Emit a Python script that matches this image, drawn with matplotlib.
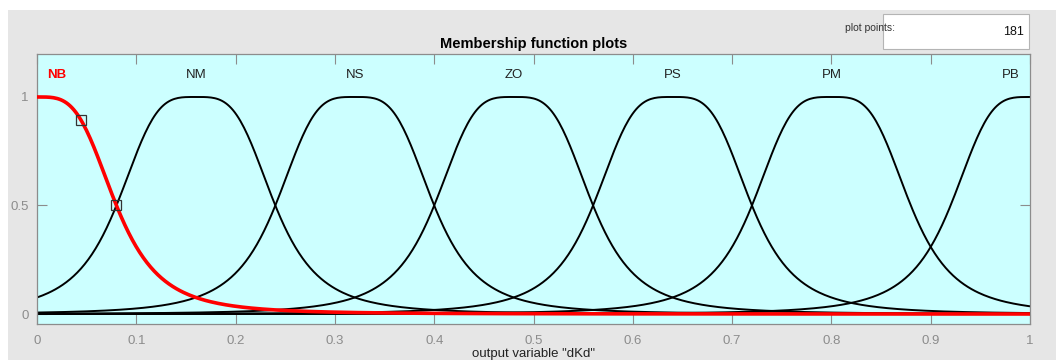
import numpy as np
import matplotlib.pyplot as plt
from matplotlib.patches import Rectangle

plt.rcParams['font.family'] = ['Liberation Sans', 'DejaVu Sans']

# generalized bell membership functions for output "dKd": [a, b, c]
mf_names = ['NB', 'NM', 'NS', 'ZO', 'PS', 'PM', 'PB']
mf_width = [0.08, 0.08, 0.08, 0.08, 0.08, 0.08, 0.08]
mf_slope = [1.8, 1.8, 1.8, 1.8, 1.8, 1.8, 1.8]
mf_center = [0.0, 0.16, 0.32, 0.48, 0.64, 0.80, 1.0]
selected = 0
n_points = 181
handle_x = [0.044, 0.08]


def gbellmf(x, a, b, c):
    return 1.0 / (1.0 + np.abs((x - c) / a) ** (2 * b))


W, H = 1056, 360
fig = plt.figure(figsize=(W / 100, H / 100), dpi=100)
fig.patch.set_facecolor('white')

# grey panel behind everything
panel = fig.add_axes([8 / W, 0, 1 - 8 / W, 1 - 10 / H])
panel.set_facecolor('#e6e6e6')
panel.set_xticks([])
panel.set_yticks([])
for s in panel.spines.values():
    s.set_visible(False)

ax_l, ax_r, ax_t, ax_b = 37, 1030, 54, 324
ax = fig.add_axes([ax_l / W, 1 - ax_b / H, (ax_r - ax_l) / W, (ax_b - ax_t) / H])
ax.set_facecolor('#ccffff')

x = np.linspace(0, 1, n_points * 3)
for i, name in enumerate(mf_names):
    if i == selected:
        continue
    y = gbellmf(x, mf_width[i], mf_slope[i], mf_center[i])
    ax.plot(x, y, color='black', lw=1.4, zorder=2)
y_sel = gbellmf(x, mf_width[selected], mf_slope[selected], mf_center[selected])
ax.plot(x, y_sel, color='red', lw=2.6, zorder=3)

hx = np.array(handle_x)
hy = gbellmf(hx, mf_width[selected], mf_slope[selected], mf_center[selected])
ax.plot(hx, hy, ls='none', marker='s', ms=7, mfc='none', mec='#333333', mew=0.9, zorder=4)

# names above each curve
for i, name in enumerate(mf_names):
    cx = mf_center[i]
    ha = 'center'
    if cx <= 0.0:
        cx, ha = 0.01, 'left'
    elif cx >= 1.0:
        cx, ha = 0.99, 'right'
    if i == selected:
        ax.text(cx, 1.1, name, color='red', fontweight='bold', fontsize=9.5, ha=ha, va='center')
    else:
        ax.text(cx, 1.1, name, color='#222222', fontsize=9.5, ha=ha, va='center')

ax.set_xlim(0, 1)
ax.set_ylim(-0.046, 1.198)
ax.set_xticks(np.arange(0, 1.01, 0.1))
ax.set_xticklabels(['0', '0.1', '0.2', '0.3', '0.4', '0.5', '0.6', '0.7', '0.8', '0.9', '1'])
ax.set_yticks([0, 0.5, 1])
ax.set_yticklabels(['0', '0.5', '1'])
ax.tick_params(direction='in', top=True, right=True, length=7, width=0.8,
               color='#8c8c8c', labelcolor='#8c8c8c', labelsize=9.5)
ax.tick_params(axis='x', pad=8)
ax.tick_params(axis='y', pad=6)
for s in ax.spines.values():
    s.set_color('#8c8c8c')
    s.set_linewidth(0.9)

ax.set_title('Membership function plots', fontsize=10.5, fontweight='bold', pad=4)
ax.set_xlabel('output variable "dKd"', fontsize=9.5, color='#222222', labelpad=1)

# plot points box
fig.text(845 / W, 1 - 28 / H, 'plot points:', fontsize=7.5, color='#333333', ha='left', va='center')
box = Rectangle((883 / W, 1 - 49 / H), (1029 - 883) / W, 35 / H, transform=fig.transFigure,
                facecolor='white', edgecolor='#b4b4b4', lw=0.8)
fig.patches.append(box)
fig.text(1024 / W, 1 - 32 / H, str(n_points), fontsize=9, color='#111111', ha='right', va='center')

fig.savefig('out.png', dpi=100, facecolor='white')
